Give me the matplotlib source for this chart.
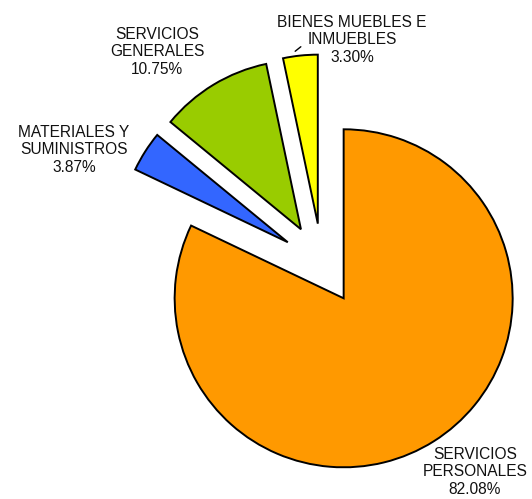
import matplotlib
matplotlib.use('Agg')
import matplotlib.pyplot as plt

# data
labels = ['SERVICIOS\nPERSONALES', 'MATERIALES Y\nSUMINISTROS', 'SERVICIOS\nGENERALES', 'BIENES MUEBLES E\nINMUEBLES']
shares = [82.08, 3.87, 10.75, 3.30]
colors = ['#FF9900', '#3366FF', '#99CC00', '#FFFF00']
explode = [0.24, 0.24, 0.24, 0.24]

W, H = 532, 499
CX, CY, R = 322, 264, 169   # pie centre / radius in pixels


def px(x, y):
    # pixel position (from top-left) -> data coords
    return (x - CX) / R, (CY - y) / R


fig = plt.figure(figsize=(W / 100, H / 100), dpi=100)
ax = fig.add_axes([0, 0, 1, 1])

wedges, _ = ax.pie(shares, colors=colors, explode=explode, startangle=90,
                   counterclock=False, radius=1.0,
                   wedgeprops=dict(edgecolor='black', linewidth=1.4))

ax.set_xlim(-CX / R, (W - CX) / R)
ax.set_ylim(-(H - CY) / R, CY / R)
ax.set_aspect('auto')
ax.axis('off')

# label positions (centre of text block, pixels)
label_pos = [(475, 472), (74, 150), (157, 52), (352, 40)]
for lab, s, (x, y) in zip(labels, shares, label_pos):
    ax.text(*px(x, y), '%s\n%.2f%%' % (lab, s), ha='center', va='center',
            fontsize=11.2, family='Liberation Sans', linespacing=1.22,
            color='#111111')

# leader line for the small yellow slice
ax.annotate('', xy=px(293, 53), xytext=px(303, 45),
            arrowprops=dict(arrowstyle='-', lw=1.0, color='black'))

fig.savefig('out.png', dpi=100)
